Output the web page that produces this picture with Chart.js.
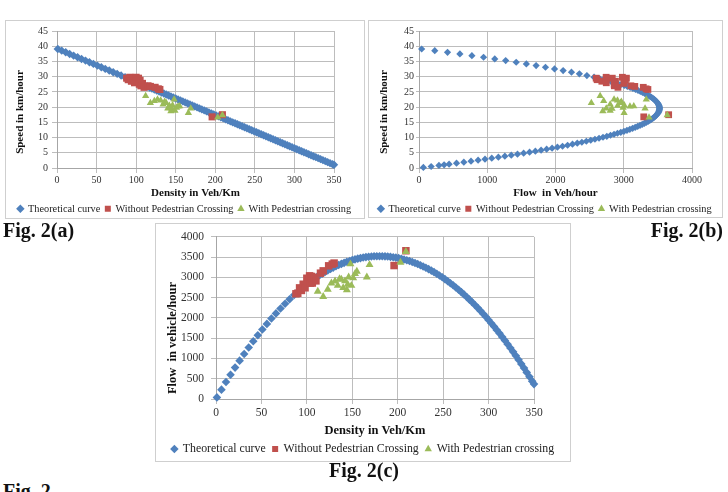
<!DOCTYPE html>
<html><head><meta charset="utf-8">
<script src="https://cdn.jsdelivr.net/npm/chart.js@4.4.0/dist/chart.umd.min.js"></script>
<style>
html,body{margin:0;padding:0;background:#fff;width:728px;height:492px;overflow:hidden;position:relative;}
.box{position:absolute;border:1px solid #cfcfcf;box-sizing:border-box;}
canvas{position:absolute;}
.cap{position:absolute;font-family:"Liberation Serif",serif;font-weight:bold;font-size:20px;line-height:20px;color:#111;white-space:nowrap;}
</style></head><body>
<div class="box" style="left:5px;top:20px;width:360px;height:199px"></div>
<div class="box" style="left:368px;top:20px;width:355px;height:198px"></div>
<div class="box" style="left:155px;top:223px;width:416px;height:239px"></div>
<canvas id="ca" width="359" height="204" style="left:5px;top:20px"></canvas>
<canvas id="cb" width="354" height="204" style="left:368px;top:20px"></canvas>
<canvas id="cc" width="414" height="242" style="left:156px;top:223px"></canvas>
<div class="cap" style="left:3px;top:220px">Fig. 2(a)</div>
<div class="cap" style="right:5px;top:220px">Fig. 2(b)</div>
<div class="cap" style="left:329px;top:460px">Fig. 2(c)</div>
<div class="cap" style="left:3px;top:481px">Fig. 2</div>
<script>
// ---------- data ----------
const seriesNames = ['Theoretical curve', 'Without Pedestrian Crossing', 'With Pedestrian crossing'];
const speedTicks = [0, 5, 10, 15, 20, 25, 30, 35, 40, 45];
const densityTicks = [0, 50, 100, 150, 200, 250, 300, 350];
const flowTicksX = [0, 1000, 2000, 3000, 4000];
const flowTicksY = [0, 500, 1000, 1500, 2000, 2500, 3000, 3500, 4000];

const theoDensity = [1,6,11,16,21,26,31,36,41,46,51,56,61,66,71,76,81,86,
90,93,96,99,102,105,108,111,114,117,120,123,126,129,132,135,138,141,144,147,150,153,156,159,162,165,168,171,174,177,
180,183,186,189,192,195,198,201,204,207,210,213,216,219,222,225,228,231,234,237,240,243,246,249,252,255,258,261,264,267,
270,273,276,279,282,285,288,291,294,297,300,303,306,309,312,315,318,321,324,327,330,333,336,339,342,345,348,350,352,355,358];
const theoSpeed = [39.09,38.55,38.00,37.46,36.91,36.37,35.82,35.28,34.73,34.19,33.64,33.10,32.55,32.01,31.46,30.92,30.37,29.83,
29.39,29.06,28.74,28.41,28.08,27.76,27.43,27.10,26.77,26.45,26.12,25.79,25.47,25.14,24.81,24.49,24.16,23.83,23.50,23.18,22.85,22.52,22.20,21.87,21.54,21.22,20.89,20.56,20.23,19.91,
19.58,19.25,18.93,18.60,18.27,17.95,17.62,17.29,16.96,16.64,16.31,15.98,15.66,15.33,15.00,14.68,14.35,14.02,13.69,13.37,13.04,12.71,12.39,12.06,11.73,11.41,11.08,10.75,10.42,10.10,
9.77,9.44,9.12,8.79,8.46,8.14,7.81,7.48,7.15,6.83,6.50,6.17,5.85,5.52,5.19,4.87,4.54,4.21,3.88,3.56,3.23,2.90,2.58,2.25,1.92,1.60,1.27,1.05,0.83,0.50,0.18];
const theoFlow = [39,231,418,599,775,946,1110,1270,1424,1573,1716,1853,1986,2112,2234,2350,2460,2565,
2645,2703,2759,2813,2864,2914,2962,3008,3052,3094,3134,3173,3209,3243,3275,3306,3334,3360,3385,3407,3428,3446,3463,3477,3490,3501,3509,3516,3521,3524,
3524,3523,3520,3515,3508,3499,3488,3476,3461,3444,3425,3404,3382,3357,3330,3302,3271,3239,3204,3168,3130,3089,3047,3003,2957,2908,2858,2806,2752,2696,
2638,2578,2516,2452,2386,2319,2249,2177,2103,2028,1950,1870,1789,1705,1620,1533,1443,1352,1258,1163,1066,967,866,762,657,550,441,368,292,178,64];

const withoutDensity = [88,90,92,94,96,98,100,101,103,104,105,106,108,110,115,118,124,128,130,196,209];
const withoutSpeed   = [29.5,29.0,29.8,28.5,29.5,28.0,29.8,28.5,29.5,27.5,28.8,27.0,27.8,26.5,27.0,26.8,26.5,26.0,25.8,16.8,17.5];
const withoutFlow    = [2596,2610,2742,2679,2832,2744,2980,2879,3039,2860,3024,2862,3002,2915,3105,3162,3286,3328,3354,3293,3658];

const withDensity = [112,118,123,127,131,134,136,138,140,142,144,145,146,148,149,151,153,155,166,169,203,209];
const withSpeed   = [23.7,21.4,22.0,22.5,22.2,20.9,21.8,21.4,19.6,20.5,18.7,19.5,20.6,22.5,18.8,19.8,20.2,20.3,18.1,19.6,16.6,17.4];
const withFlow    = [2654,2525,2706,2858,2908,2801,2965,2953,2744,2911,2693,2828,3008,3330,2801,2990,3091,3147,3005,3312,3370,3637];

// ---------- styling ----------
const SERIF = '"Liberation Serif", "Times New Roman", serif';
const colors = ['#4F81BD', '#C0504D', '#9BBB59'];
const styles = ['rectRot', 'rect', 'triangle'];

const yTitlePlugin = {
  id: 'yTitle',
  afterDraw(chart, args, o) {
    const ctx = chart.ctx;
    ctx.save();
    ctx.translate(o.x, o.y);
    ctx.rotate(-Math.PI / 2);
    ctx.font = 'bold ' + o.size + 'px ' + SERIF;
    ctx.fillStyle = '#111';
    ctx.textAlign = 'center';
    ctx.textBaseline = 'middle';
    ctx.fillText(o.text, 0, 0);
    ctx.restore();
  }
};

// points outside the axis range are not shown (as in the spreadsheet chart)
function pts(xs, ys, xr, yr) {
  return xs.map((x, i) => ({x: x, y: ys[i]}))
    .filter(p => p.x >= xr[0] && p.x <= xr[xr.length - 1] && p.y >= yr[0] && p.y <= yr[yr.length - 1]);
}

function axis(ticksArr, c) {
  return {
    type: 'linear',
    min: ticksArr[0], max: ticksArr[ticksArr.length - 1],
    ticks: {stepSize: ticksArr[1] - ticksArr[0], callback: v => String(v), color: '#333',
            font: {family: SERIF, size: c.tickSize}, padding: c.pad, maxRotation: 0, autoSkip: false},
    grid: {color: '#bdbdbd', lineWidth: 1, tickLength: c.tickLen},
    border: {color: '#a6a6a6'},
    title: c.title ? {display: true, text: c.title, color: '#111',
            font: {family: SERIF, size: c.titleSize, weight: 'bold'}, padding: {top: 0, bottom: c.titlePadB || 0}} : {display: false},
    afterFit: c.fit
  };
}

function makeChart(id, series, cfg) {
  const datasets = series.map((s, i) => ({
    label: seriesNames[i],
    data: pts(s[0], s[1], cfg.xTicks, cfg.yTicks),
    pointStyle: styles[i],
    pointRadius: cfg.radii[i],
    pointHoverRadius: cfg.radii[i],
    backgroundColor: colors[i],
    borderColor: colors[i],
    borderWidth: 0,
    showLine: false,
    clip: 8,
    yAxisID: 'y',
    order: 3 - i
  }));
  new Chart(document.getElementById(id), {
    type: 'scatter',
    data: {datasets: datasets},
    options: {
      responsive: false, animation: false, devicePixelRatio: 1,
      layout: {padding: {left: 0, top: cfg.top, right: 0, bottom: 0}},
      plugins: {
        legend: {position: 'bottom', labels: {usePointStyle: true, boxWidth: 5, boxHeight: 6, padding: cfg.legendPad,
                 color: '#222', font: {family: SERIF, size: cfg.legendSize},
                 sort: (a, b) => a.datasetIndex - b.datasetIndex}},
        tooltip: {enabled: false},
        yTitle: cfg.yTitle
      },
      scales: {
        x: axis(cfg.xTicks, Object.assign({}, cfg.xAxis, {fit: s => { s.height = cfg.xH; }})),
        y: axis(cfg.yTicks, Object.assign({}, cfg.yAxis, {fit: s => { s.width = cfg.yW; }})),
        // empty margin on the right of the plot area (keeps the legend full width)
        yR: {position: 'right', display: true, grid: {display: false}, border: {display: false},
             ticks: {display: false}, afterFit: s => { s.width = cfg.right; }}
      }
    },
    plugins: [yTitlePlugin]
  });
}

// Fig 2(a): density vs speed
makeChart('ca', [[theoDensity, theoSpeed], [withoutDensity, withoutSpeed], [withDensity, withSpeed]], {
  radii: [4.2, 5, 4.2], top: 11, right: 30, xH: 30.7, yW: 52, legendSize: 10.3, legendPad: 5,
  xTicks: densityTicks, yTicks: speedTicks,
  xAxis: {tickSize: 10, pad: 1, tickLen: 5, title: 'Density in Veh/Km', titleSize: 11, titlePadB: -0.9},
  yAxis: {tickSize: 10, pad: 4, tickLen: 5},
  yTitle: {text: 'Speed in km/hour', x: 15, y: 92, size: 11}
});

// Fig 2(b): flow vs speed
makeChart('cb', [[theoFlow, theoSpeed], [withoutFlow, withoutSpeed], [withFlow, withSpeed]], {
  radii: [3.6, 4.8, 4.2], top: 11, right: 30, xH: 30.7, yW: 51, legendSize: 10.3, legendPad: 5,
  xTicks: flowTicksX, yTicks: speedTicks,
  xAxis: {tickSize: 10, pad: 1, tickLen: 5, title: 'Flow  in Veh/hour', titleSize: 11, titlePadB: -0.9},
  yAxis: {tickSize: 10, pad: 2, tickLen: 3},
  yTitle: {text: 'Speed in km/hour', x: 16, y: 92, size: 11}
});

// Fig 2(c): density vs flow
makeChart('cc', [[theoDensity, theoFlow], [withoutDensity, withoutFlow], [withDensity, withFlow]], {
  radii: [4.3, 5.3, 4.6], top: 13, right: 36, xH: 37.2, yW: 60, legendSize: 11.8, legendPad: 7,
  xTicks: densityTicks, yTicks: flowTicksY,
  xAxis: {tickSize: 11.5, pad: 2, tickLen: 5, title: 'Density in Veh/Km', titleSize: 12.5, titlePadB: -2.3},
  yAxis: {tickSize: 11.5, pad: 7, tickLen: 5},
  yTitle: {text: 'Flow  in vehicle/hour', x: 17, y: 115, size: 12.5}
});
</script>
</body></html>
